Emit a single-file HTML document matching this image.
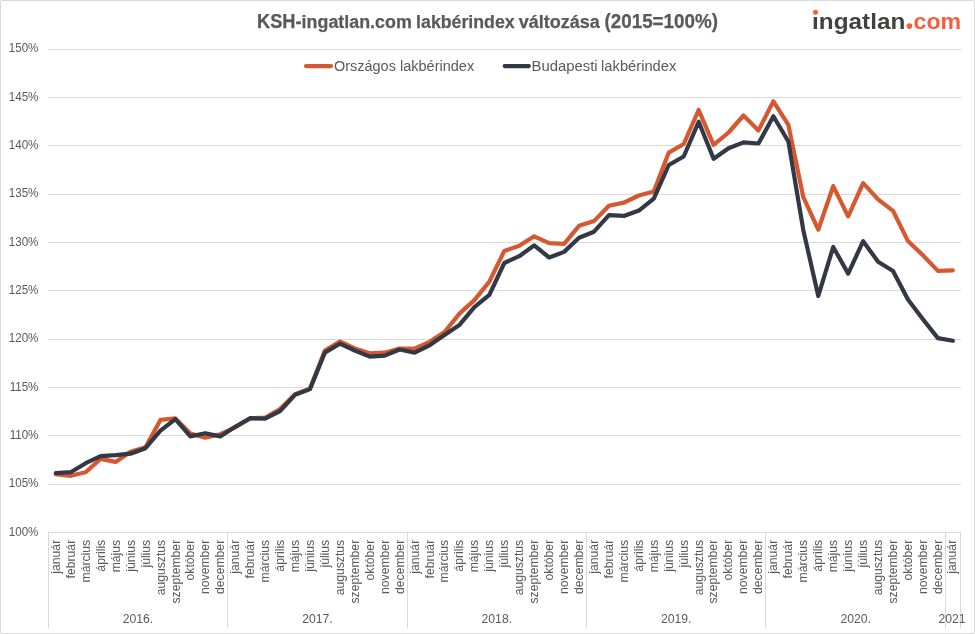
<!DOCTYPE html>
<html lang="hu"><head><meta charset="utf-8"><title>KSH-ingatlan.com lakbérindex változása</title>
<style>
html,body{margin:0;padding:0;background:#fff;}
body{width:975px;height:634px;overflow:hidden;}
svg{display:block;}
text{font-family:"Liberation Sans",sans-serif;fill:#595959;}
.ax{font-size:12.2px;}
.lg{font-size:15.5px;}
.ti{font-size:19.2px;font-weight:bold;stroke:#595959;stroke-width:0.25px;}
.logo{font-size:22.2px;font-weight:bold;}
</style></head><body>
<svg width="975" height="634" viewBox="0 0 975 634">
<rect x="0" y="0" width="975" height="634" fill="#ffffff"/>
<rect x="0.5" y="0.5" width="974" height="633" rx="1.5" ry="1.5" fill="none" stroke="#d9d9d9" stroke-width="1"/>
<g stroke="#d9d9d9" stroke-width="1" fill="none" shape-rendering="crispEdges">
<line x1="48" y1="49.5" x2="961" y2="49.5"/>
<line x1="48" y1="97.5" x2="961" y2="97.5"/>
<line x1="48" y1="145.5" x2="961" y2="145.5"/>
<line x1="48" y1="194.5" x2="961" y2="194.5"/>
<line x1="48" y1="242.5" x2="961" y2="242.5"/>
<line x1="48" y1="290.5" x2="961" y2="290.5"/>
<line x1="48" y1="339.5" x2="961" y2="339.5"/>
<line x1="48" y1="387.5" x2="961" y2="387.5"/>
<line x1="48" y1="435.5" x2="961" y2="435.5"/>
<line x1="48" y1="484.5" x2="961" y2="484.5"/>
<line x1="48" y1="532.5" x2="961" y2="532.5"/>
<line x1="48.5" y1="532" x2="48.5" y2="628"/>
<line x1="227.5" y1="532" x2="227.5" y2="628"/>
<line x1="407.5" y1="532" x2="407.5" y2="628"/>
<line x1="586.5" y1="532" x2="586.5" y2="628"/>
<line x1="765.5" y1="532" x2="765.5" y2="628"/>
<line x1="945.5" y1="532" x2="945.5" y2="628"/>
<line x1="960.5" y1="532" x2="960.5" y2="628"/>
</g>
<g class="ax" text-anchor="end">
<text transform="translate(38.4,52.2) scale(0.95,1)">150%</text>
<text transform="translate(38.4,101.2) scale(0.95,1)">145%</text>
<text transform="translate(38.4,149.2) scale(0.95,1)">140%</text>
<text transform="translate(38.4,197.2) scale(0.95,1)">135%</text>
<text transform="translate(38.4,246.2) scale(0.95,1)">130%</text>
<text transform="translate(38.4,294.2) scale(0.95,1)">125%</text>
<text transform="translate(38.4,342.2) scale(0.95,1)">120%</text>
<text transform="translate(38.4,391.2) scale(0.95,1)">115%</text>
<text transform="translate(38.4,439.2) scale(0.95,1)">110%</text>
<text transform="translate(38.4,487.2) scale(0.95,1)">105%</text>
<text transform="translate(38.4,536.2) scale(0.95,1)">100%</text>
</g>
<g class="ax" text-anchor="end">
<text transform="translate(59.90,539.8) rotate(-90)">január</text>
<text transform="translate(74.90,539.8) rotate(-90)">február</text>
<text transform="translate(89.90,539.8) rotate(-90)">március</text>
<text transform="translate(104.90,539.8) rotate(-90)">április</text>
<text transform="translate(119.90,539.8) rotate(-90)">május</text>
<text transform="translate(134.90,539.8) rotate(-90)">június</text>
<text transform="translate(149.90,539.8) rotate(-90)">július</text>
<text transform="translate(164.90,539.8) rotate(-90)">augusztus</text>
<text transform="translate(179.90,539.8) rotate(-90)">szeptember</text>
<text transform="translate(193.90,539.8) rotate(-90)">október</text>
<text transform="translate(208.90,539.8) rotate(-90)">november</text>
<text transform="translate(223.90,539.8) rotate(-90)">december</text>
<text transform="translate(238.90,539.8) rotate(-90)">január</text>
<text transform="translate(253.90,539.8) rotate(-90)">február</text>
<text transform="translate(268.90,539.8) rotate(-90)">március</text>
<text transform="translate(283.90,539.8) rotate(-90)">április</text>
<text transform="translate(298.90,539.8) rotate(-90)">május</text>
<text transform="translate(313.90,539.8) rotate(-90)">június</text>
<text transform="translate(328.90,539.8) rotate(-90)">július</text>
<text transform="translate(343.90,539.8) rotate(-90)">augusztus</text>
<text transform="translate(358.90,539.8) rotate(-90)">szeptember</text>
<text transform="translate(373.90,539.8) rotate(-90)">október</text>
<text transform="translate(388.90,539.8) rotate(-90)">november</text>
<text transform="translate(403.90,539.8) rotate(-90)">december</text>
<text transform="translate(418.90,539.8) rotate(-90)">január</text>
<text transform="translate(433.90,539.8) rotate(-90)">február</text>
<text transform="translate(447.90,539.8) rotate(-90)">március</text>
<text transform="translate(462.90,539.8) rotate(-90)">április</text>
<text transform="translate(477.90,539.8) rotate(-90)">május</text>
<text transform="translate(492.90,539.8) rotate(-90)">június</text>
<text transform="translate(507.90,539.8) rotate(-90)">július</text>
<text transform="translate(522.90,539.8) rotate(-90)">augusztus</text>
<text transform="translate(537.90,539.8) rotate(-90)">szeptember</text>
<text transform="translate(552.90,539.8) rotate(-90)">október</text>
<text transform="translate(567.90,539.8) rotate(-90)">november</text>
<text transform="translate(582.90,539.8) rotate(-90)">december</text>
<text transform="translate(597.90,539.8) rotate(-90)">január</text>
<text transform="translate(612.90,539.8) rotate(-90)">február</text>
<text transform="translate(627.90,539.8) rotate(-90)">március</text>
<text transform="translate(642.90,539.8) rotate(-90)">április</text>
<text transform="translate(657.90,539.8) rotate(-90)">május</text>
<text transform="translate(672.90,539.8) rotate(-90)">június</text>
<text transform="translate(687.90,539.8) rotate(-90)">július</text>
<text transform="translate(702.90,539.8) rotate(-90)">augusztus</text>
<text transform="translate(716.90,539.8) rotate(-90)">szeptember</text>
<text transform="translate(731.90,539.8) rotate(-90)">október</text>
<text transform="translate(746.90,539.8) rotate(-90)">november</text>
<text transform="translate(761.90,539.8) rotate(-90)">december</text>
<text transform="translate(776.90,539.8) rotate(-90)">január</text>
<text transform="translate(791.90,539.8) rotate(-90)">február</text>
<text transform="translate(806.90,539.8) rotate(-90)">március</text>
<text transform="translate(821.90,539.8) rotate(-90)">április</text>
<text transform="translate(836.90,539.8) rotate(-90)">május</text>
<text transform="translate(851.90,539.8) rotate(-90)">június</text>
<text transform="translate(866.90,539.8) rotate(-90)">július</text>
<text transform="translate(881.90,539.8) rotate(-90)">augusztus</text>
<text transform="translate(896.90,539.8) rotate(-90)">szeptember</text>
<text transform="translate(911.90,539.8) rotate(-90)">október</text>
<text transform="translate(926.90,539.8) rotate(-90)">november</text>
<text transform="translate(941.90,539.8) rotate(-90)">december</text>
<text transform="translate(956.30,539.8) rotate(-90)">január</text>
</g>
<g class="ax" text-anchor="middle">
<text x="138.00" y="623">2016.</text>
<text x="317.41" y="623">2017.</text>
<text x="496.82" y="623">2018.</text>
<text x="676.23" y="623">2019.</text>
<text x="855.64" y="623">2020.</text>
<text x="952" y="623">2021</text>
</g>
<text class="ti" y="28"><tspan x="257" textLength="154.8" lengthAdjust="spacingAndGlyphs"><tspan font-size="19.6px">KSH-</tspan>ingatlan.com</tspan> <tspan x="416.1" textLength="98.6" lengthAdjust="spacingAndGlyphs">lakbérindex</tspan> <tspan x="518.7" textLength="81.2" lengthAdjust="spacingAndGlyphs">változása</tspan> <tspan x="604.5" textLength="113.5" lengthAdjust="spacingAndGlyphs" font-size="19.6px">(2015=100%)</tspan></text>
<line x1="306" y1="66.1" x2="331" y2="66.1" stroke="#d65830" stroke-width="4.2" stroke-linecap="round"/>
<text class="lg" y="71.1"><tspan x="333.9" textLength="62" lengthAdjust="spacingAndGlyphs">Országos</tspan> <tspan x="400" textLength="74.2" lengthAdjust="spacingAndGlyphs">lakbérindex</tspan></text>
<line x1="504.7" y1="66.1" x2="528.8" y2="66.1" stroke="#323846" stroke-width="4.2" stroke-linecap="round"/>
<text class="lg" y="71.1"><tspan x="531.6" textLength="66" lengthAdjust="spacingAndGlyphs">Budapesti</tspan> <tspan x="601.1" textLength="75.2" lengthAdjust="spacingAndGlyphs">lakbérindex</tspan></text>
<text class="logo" y="28.8"><tspan fill="#414140" x="812.1" textLength="93.2" lengthAdjust="spacingAndGlyphs">ingatlan</tspan><tspan fill="#f95c38" x="906.2" dy="-1">.</tspan><tspan fill="#f95c38" x="913.6" dy="1" textLength="47.6" lengthAdjust="spacingAndGlyphs">com</tspan></text>
<circle cx="909.5" cy="26.1" r="2.8" fill="#f95c38"/>
<rect x="812.5" y="9" width="6" height="7.3" fill="#ffffff"/>
<circle cx="815.5" cy="12.3" r="2.5" fill="#f95c38"/>
<polyline points="55.78,474.20 70.73,475.80 85.68,472.20 100.63,458.90 115.58,461.90 130.53,451.80 145.48,447.30 160.43,419.90 175.38,418.40 190.33,433.50 205.28,437.60 220.23,434.20 235.19,427.40 250.14,418.40 265.09,417.70 280.04,409.00 294.99,394.20 309.94,388.70 324.89,350.60 339.84,341.50 354.79,348.50 369.74,353.30 384.69,352.70 399.64,348.60 414.60,348.60 429.55,341.80 444.50,332.10 459.45,313.60 474.40,300.10 489.35,281.60 504.30,250.90 519.25,245.80 534.20,236.30 549.15,243.10 564.10,243.90 579.05,225.80 594.00,221.10 608.96,205.70 623.91,202.60 638.86,195.50 653.81,191.50 668.76,152.60 683.71,144.00 698.66,110.00 713.61,144.80 728.56,132.50 743.51,115.50 758.46,130.40 773.41,101.30 788.37,124.90 803.32,197.20 818.27,229.70 833.22,186.10 848.17,216.40 863.12,183.10 878.07,199.40 893.02,210.80 907.97,241.10 922.92,255.30 937.87,270.90 952.82,270.30" fill="none" stroke="#d65830" stroke-width="4.2" stroke-linejoin="round" stroke-linecap="round"/>
<polyline points="55.78,473.10 70.73,472.20 85.68,463.20 100.63,456.20 115.58,455.20 130.53,453.70 145.48,448.20 160.43,430.70 175.38,419.10 190.33,436.40 205.28,433.20 220.23,436.40 235.19,426.80 250.14,418.20 265.09,418.60 280.04,411.20 294.99,394.80 309.94,389.10 324.89,352.60 339.84,343.70 354.79,350.50 369.74,356.60 384.69,355.60 399.64,349.50 414.60,352.60 429.55,345.30 444.50,335.00 459.45,324.90 474.40,307.10 489.35,294.80 504.30,263.00 519.25,256.20 534.20,245.40 549.15,257.50 564.10,251.90 579.05,237.80 594.00,231.70 608.96,215.20 623.91,215.90 638.86,210.60 653.81,198.70 668.76,165.00 683.71,156.50 698.66,121.80 713.61,158.80 728.56,148.20 743.51,142.40 758.46,143.50 773.41,116.30 788.37,141.50 803.32,230.20 818.27,296.00 833.22,247.00 848.17,273.60 863.12,241.20 878.07,261.70 893.02,271.00 907.97,299.50 922.92,319.20 937.87,338.10 952.82,340.80" fill="none" stroke="#323846" stroke-width="4.2" stroke-linejoin="round" stroke-linecap="round"/>
</svg>
</body></html>
